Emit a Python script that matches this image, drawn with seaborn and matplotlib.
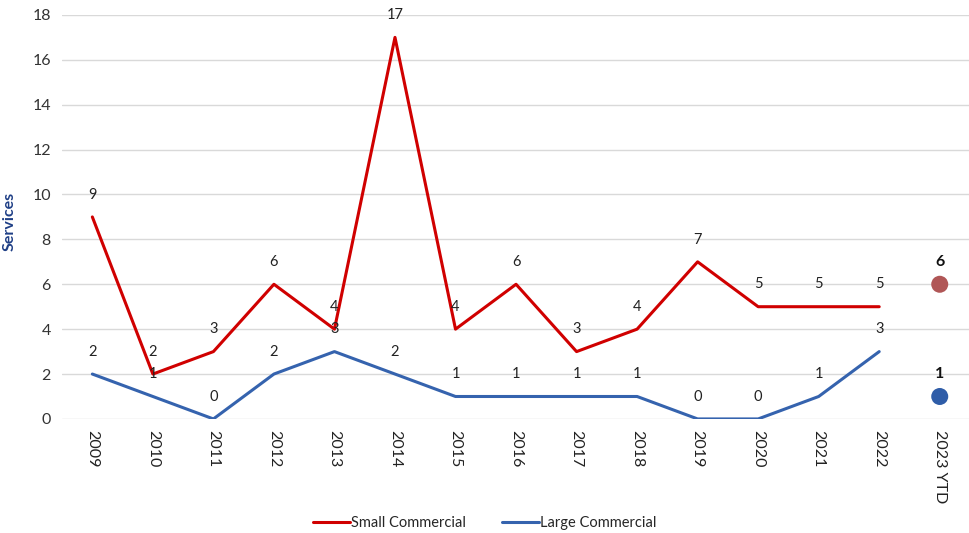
import matplotlib.pyplot as plt
import pandas as pd
import seaborn as sns

categories = ["2009", "2010", "2011", "2012", "2013", "2014", "2015", "2016",
              "2017", "2018", "2019", "2020", "2021", "2022", "2023 YTD"]
small_commercial = [9, 2, 3, 6, 4, 17, 4, 6, 3, 4, 7, 5, 5, 5]
large_commercial = [2, 1, 0, 2, 3, 2, 1, 1, 1, 1, 0, 0, 1, 3]
small_ytd = 6
large_ytd = 1

RED = "#D00000"
BLUE = "#3563AE"
RED_DOT = "#B05656"
BLUE_DOT = "#2F5DA8"

sns.set_theme(style="white")
plt.rcParams["font.family"] = ["Lato", "DejaVu Sans"]

n_years = len(small_commercial)
df = pd.DataFrame({
    "x": list(range(n_years)) * 2,
    "value": small_commercial + large_commercial,
    "series": ["Small Commercial"] * n_years + ["Large Commercial"] * n_years,
})
ytd = pd.DataFrame({
    "x": [n_years, n_years],
    "value": [small_ytd, large_ytd],
    "series": ["Small Commercial", "Large Commercial"],
})

fig = plt.figure(figsize=(9.7, 5.33), dpi=100)
ax = fig.add_axes([0.064, 0.214, 0.936, 0.758])

sns.lineplot(data=df, x="x", y="value", hue="series",
             palette={"Small Commercial": RED, "Large Commercial": BLUE},
             linewidth=2.2, legend=False, ax=ax)
sns.scatterplot(data=ytd, x="x", y="value", hue="series",
                palette={"Small Commercial": RED_DOT, "Large Commercial": BLUE_DOT},
                s=150, edgecolor="none", legend=False, ax=ax, zorder=3)

# data labels
for i, v in enumerate(small_commercial):
    ax.annotate(str(v), (i, v), xytext=(0, 11), textcoords="offset points",
                ha="center", va="bottom", fontsize=10.5, color="#222222")
for i, v in enumerate(large_commercial):
    ax.annotate(str(v), (i, v), xytext=(0, 11), textcoords="offset points",
                ha="center", va="bottom", fontsize=10.5, color="#222222")
for v in [small_ytd, large_ytd]:
    ax.annotate(str(v), (n_years, v), xytext=(0, 11), textcoords="offset points",
                ha="center", va="bottom", fontsize=11.5, fontweight="bold", color="#111111")

ax.set_xlim(-0.5, len(categories) - 0.5)
ax.set_ylim(0, 18)
ax.set_yticks(range(0, 19, 2))
ax.set_xticks(range(len(categories)))
ax.set_xticklabels(categories, rotation=270, fontsize=11.5, color="#222222")
ax.tick_params(axis="y", labelsize=11.5, labelcolor="#333333", length=0, pad=8)
ax.tick_params(axis="x", length=0, pad=8)
ax.grid(axis="y", color="#D9D9D9", linewidth=1)
ax.set_xlabel("")
ax.set_ylabel("Services", fontsize=11.5, fontweight="bold", color="#1F3F86")
ax.yaxis.set_label_coords(-0.05, 0.49)
for s in ax.spines.values():
    s.set_visible(False)

handles = [plt.Line2D([], [], color=RED, linewidth=2.2),
           plt.Line2D([], [], color=BLUE, linewidth=2.2)]
fig.legend(handles, ["Small Commercial", "Large Commercial"], loc="center",
           bbox_to_anchor=(0.5, 0.018), ncol=2, frameon=False, fontsize=10.5,
           handlelength=2.5, handletextpad=0.1, columnspacing=2.5)

fig.savefig("out.png", dpi=100)
